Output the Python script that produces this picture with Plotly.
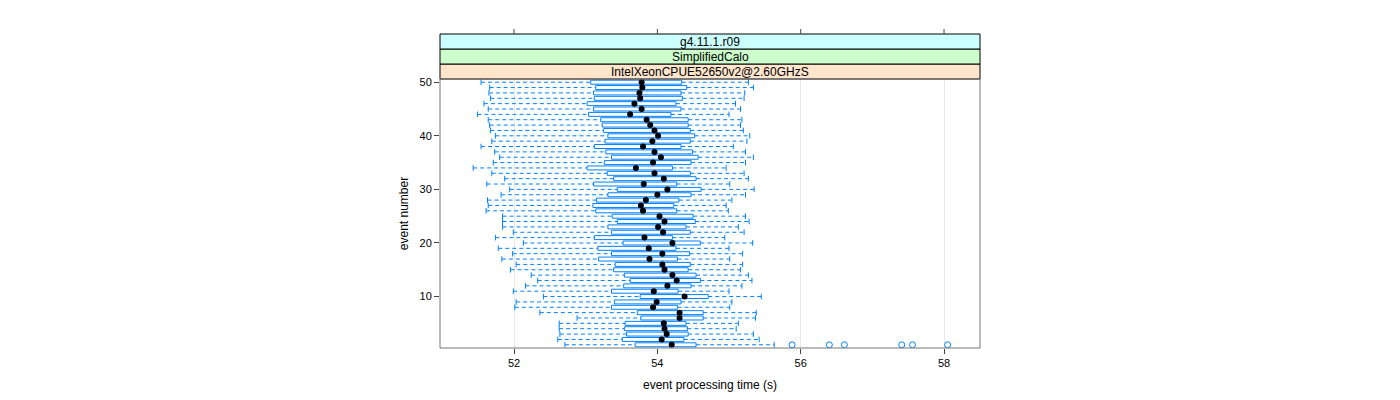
import plotly.graph_objects as go

events = list(range(1, 51))
lower_whisker = [52.71, 52.61, 52.64, 52.63, 52.63, 52.88, 52.36, 52.01, 52.03, 52.41,
                 51.99, 52.16, 52.33, 52.24, 51.95, 52.03, 51.83, 51.98, 51.78, 52.13,
                 51.74, 51.99, 51.84, 51.84, 51.84, 51.61, 51.64, 51.63, 51.82, 51.94,
                 51.62, 51.87, 51.69, 51.43, 51.71, 51.80, 51.73, 51.54, 51.69, 51.74,
                 51.67, 51.66, 51.64, 51.49, 51.64, 51.58, 51.67, 51.65, 51.66, 51.54]
q1 = [53.69, 53.51, 53.57, 53.54, 53.55, 53.77, 53.72, 53.36, 53.40, 53.76,
      53.36, 53.53, 53.62, 53.54, 53.39, 53.41, 53.18, 53.36, 53.17, 53.52,
      53.12, 53.36, 53.31, 53.44, 53.37, 53.14, 53.10, 53.15, 53.31, 53.44,
      53.11, 53.39, 53.30, 53.02, 53.26, 53.36, 53.28, 53.12, 53.27, 53.31,
      53.25, 53.23, 53.21, 53.04, 53.11, 53.02, 53.12, 53.11, 53.14, 53.07]
median = [54.20, 54.06, 54.13, 54.10, 54.09, 54.31, 54.31, 53.94, 53.99, 54.38,
          53.95, 54.14, 54.27, 54.21, 54.10, 54.07, 53.89, 54.07, 53.88, 54.21,
          53.82, 54.08, 54.01, 54.10, 54.03, 53.80, 53.77, 53.84, 54.00, 54.14,
          53.81, 54.09, 53.96, 53.70, 53.94, 54.05, 53.96, 53.80, 53.93, 54.01,
          53.96, 53.90, 53.85, 53.62, 53.78, 53.68, 53.76, 53.75, 53.79, 53.78]
q3 = [54.54, 54.37, 54.43, 54.42, 54.40, 54.64, 54.64, 54.28, 54.33, 54.71,
      54.29, 54.47, 54.60, 54.54, 54.43, 54.46, 54.28, 54.45, 54.26, 54.60,
      54.21, 54.46, 54.40, 54.53, 54.50, 54.27, 54.23, 54.30, 54.47, 54.61,
      54.27, 54.54, 54.46, 54.21, 54.47, 54.57, 54.49, 54.33, 54.46, 54.52,
      54.46, 54.43, 54.43, 54.19, 54.33, 54.26, 54.35, 54.33, 54.41, 54.34]
upper_whisker = [55.63, 55.42, 55.34, 55.10, 55.13, 55.37, 55.38, 55.01, 55.04, 55.45,
                 55.00, 55.18, 55.32, 55.27, 55.16, 55.19, 55.01, 55.19, 55.00, 55.33,
                 54.94, 55.21, 55.13, 55.28, 55.23, 54.99, 54.96, 55.04, 55.23, 55.35,
                 55.01, 55.27, 55.21, 54.96, 55.23, 55.34, 55.23, 55.06, 55.25, 55.29,
                 55.20, 55.16, 55.18, 55.00, 55.16, 55.09, 55.21, 55.22, 55.34, 55.27]
outlier_event = [1, 1, 1, 1, 1, 1]
outlier_value = [55.88, 56.40, 56.61, 57.41, 57.56, 58.05]

strip_labels = ["IntelXeonCPUE52650v2@2.60GHzS", "SimplifiedCalo", "g4.11.1.r09"]
strip_colors = ["#ffe5cc", "#ccffcc", "#ccffff"]
x_ticks = [52, 54, 56, 58]
y_ticks = [10, 20, 30, 40, 50]

BLUE = "#0080ff"
FONT = "Liberation Sans, Arial, Helvetica, sans-serif"
half_h = 0.37

# whiskers (dashed)
wx, wy = [], []
for e, lw, a, b, uw in zip(events, lower_whisker, q1, q3, upper_whisker):
    wx += [lw, a, None, b, uw, None]
    wy += [e, e, None, e, e, None]

# boxes
bx, by = [], []
for e, a, b in zip(events, q1, q3):
    bx += [a, b, b, a, a, None]
    by += [e - half_h, e - half_h, e + half_h, e + half_h, e - half_h, None]

# whisker caps
cx, cy = [], []
for e, lw, uw in zip(events, lower_whisker, upper_whisker):
    cx += [lw, uw]
    cy += [e, e]

fig = go.Figure()
fig.add_trace(go.Scatter(x=wx, y=wy, mode="lines", connectgaps=False,
                         line=dict(color=BLUE, width=1, dash="4px,3px"),
                         hoverinfo="skip", showlegend=False))
fig.add_trace(go.Scatter(x=cx, y=cy, mode="markers",
                         marker=dict(symbol="line-ns-open", size=4, color=BLUE,
                                     line=dict(color=BLUE, width=1)),
                         hoverinfo="skip", showlegend=False))
fig.add_trace(go.Scatter(x=bx, y=by, mode="lines", fill="toself",
                         fillcolor="white", connectgaps=False,
                         line=dict(color=BLUE, width=1),
                         hoverinfo="skip", showlegend=False))
fig.add_trace(go.Scatter(x=median, y=events, mode="markers",
                         marker=dict(color="black", size=6),
                         showlegend=False))
fig.add_trace(go.Scatter(x=outlier_value, y=outlier_event, mode="markers",
                         marker=dict(symbol="circle-open", size=6, color=BLUE,
                                     line=dict(color=BLUE, width=1)),
                         showlegend=False))

# page body has an 8px default margin; compensate so the panel lands where the reference has it
M_L, M_R, M_T, M_B = 432, 428, 71, 60
plot_h = 400 - M_T - M_B
strip_h = 15 / plot_h
shapes = []
annotations = []
for i, (lab, col) in enumerate(zip(strip_labels, strip_colors)):
    y0 = 1 + i * strip_h
    shapes.append(dict(type="rect", xref="paper", yref="paper", x0=0, x1=1,
                       y0=y0, y1=y0 + strip_h, fillcolor=col,
                       line=dict(color="black", width=1), layer="above"))
    annotations.append(dict(text=lab, xref="paper", yref="paper", x=0.5,
                            y=y0 + strip_h / 2, showarrow=False,
                            font=dict(family=FONT, size=12, color="black"),
                            xanchor="center", yanchor="middle"))
top = 1 + 3 * strip_h
for t in x_ticks:
    shapes.append(dict(type="line", xref="x", yref="paper", x0=t, x1=t,
                       y0=top, y1=top + 5 / plot_h,
                       line=dict(color="#444444", width=1)))
shapes.append(dict(type="rect", xref="paper", yref="paper", x0=0, x1=1, y0=0, y1=1,
                   line=dict(color="#777777", width=1), layer="above"))

fig.update_layout(
    width=1400, height=400,
    margin=dict(l=M_L, r=M_R, t=M_T, b=M_B),
    paper_bgcolor="white", plot_bgcolor="white",
    font=dict(family=FONT, size=11, color="black"),
    shapes=shapes, annotations=annotations,
    xaxis=dict(range=[50.967, 58.502], tickvals=x_ticks, ticktext=[str(t) for t in x_ticks],
               showgrid=True, gridcolor="#e8e8e8", gridwidth=1, zeroline=False,
               ticks="outside", ticklen=5, tickcolor="#444444", showline=False,
               title=dict(text="event processing time (s)", font=dict(size=12), standoff=12),
               tickfont=dict(size=11)),
    yaxis=dict(range=[0.4, 50.6], tickvals=y_ticks, ticktext=[str(t) for t in y_ticks],
               showgrid=False, zeroline=False, ticks="outside", ticklen=5,
               tickcolor="#444444", showline=False,
               title=dict(text="event number", font=dict(size=12), standoff=8),
               tickfont=dict(size=11)),
)
fig.write_html("out.html")
